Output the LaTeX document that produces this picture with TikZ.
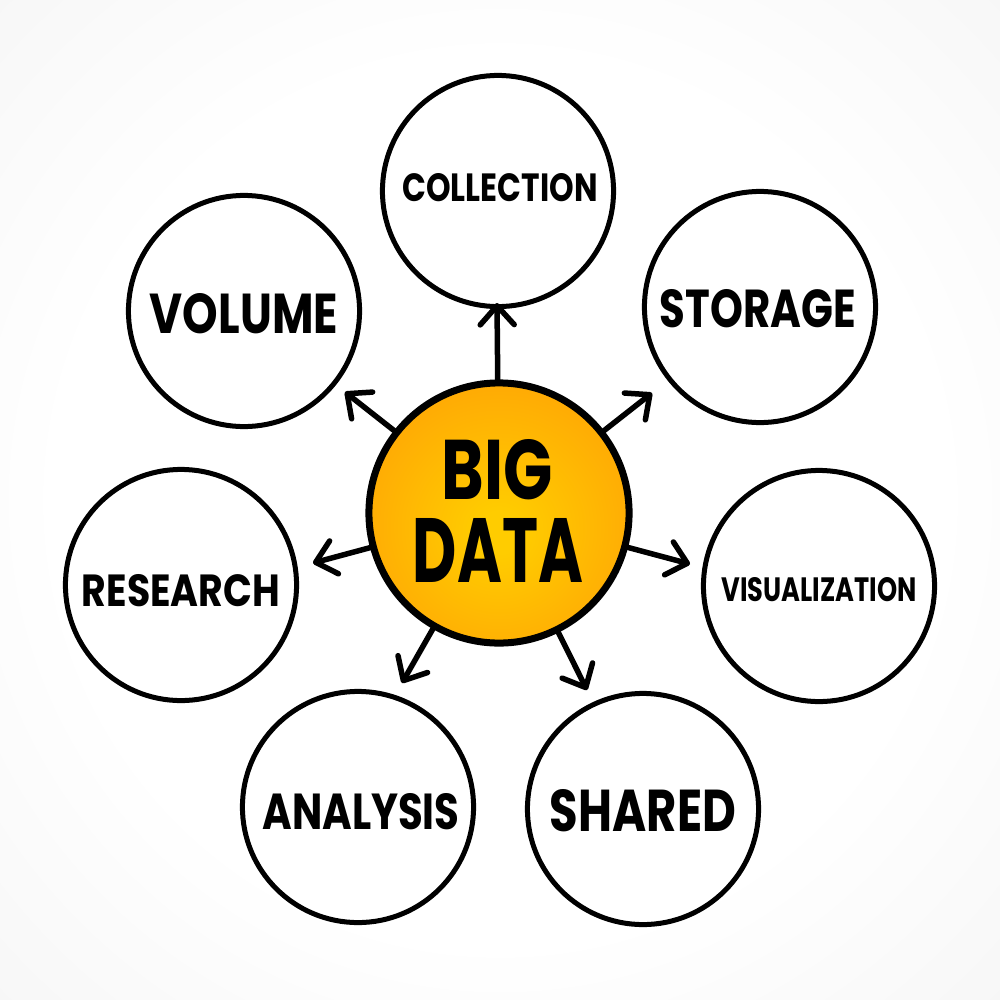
\documentclass[tikz,border=0pt]{standalone}
\usepackage{graphicx}
\usepackage{fontspec}
\setmainfont{Poppins}
\usetikzlibrary{arrows.meta}
\definecolor{bggray}{RGB}{226,226,226}
\definecolor{orbin}{RGB}{255,204,0}
\definecolor{orbout}{RGB}{255,146,8}
\pgfdeclareradialshading{bgshade}{\pgfpoint{0bp}{0bp}}{color(0bp)=(white); color(22bp)=(white); color(72bp)=(bggray)}
\pgfdeclareradialshading{orb}{\pgfpoint{0bp}{-4bp}}{color(0bp)=(orbin); color(4bp)=(orbin); color(44bp)=(orbout); color(60bp)=(orbout)}
\newlength\pxu
\setlength\pxu{0.1mm}
\newcommand\lbl[3]{\resizebox{#1\pxu}{#2\pxu}{\bfseries #3}}
\begin{document}
\begin{tikzpicture}[x=0.01cm,y=-0.01cm,
  bubble/.style={circle, draw=black, line width=0.05cm, minimum size=2.31cm, inner sep=0pt},
  hub/.style={circle, draw=black, line width=0.07cm, minimum size=2.6cm, inner sep=0pt, shading=orb},
  txt/.style={inner sep=0pt, outer sep=0pt},
  link/.style={line width=0.055cm, line cap=round,
    -{Straight Barb[length=0.19cm,width=0.34cm,line cap=round,line join=round]}}]
\useasboundingbox (0,0) rectangle (1000,1000);
\fill[shading=bgshade] (0,0) rectangle (1000,1000);

% outer circles
\node[bubble] (col) at (498,191) {};
\node[bubble] (vol) at (244,311) {};
\node[bubble] (sto) at (760,307) {};
\node[bubble] (res) at (181,585) {};
\node[bubble] (vis) at (819,586) {};
\node[bubble] (ana) at (358,807) {};
\node[bubble] (sha) at (643,809) {};

% hub
\node[hub] (big) at (499,513) {};

% labels
\node[txt] (bigt) at (497,470) {\lbl{111}{60}{BIG}};
\node[txt] (datat) at (498,550) {\lbl{170}{64}{DATA}};
\node[txt] (colt) at (500,188) {\lbl{195}{28}{COLLECTION}};
\node[txt] (volt) at (244,314) {\lbl{188}{40}{VOLUME}};
\node[txt] (stot) at (758,309) {\lbl{196}{38}{STORAGE}};
\node[txt] (rest) at (181,591) {\lbl{198}{32}{RESEARCH}};
\node[txt] (vist) at (819,590) {\lbl{195}{24}{VISUALIZATION}};
\node[txt] (anat) at (361,812) {\lbl{197}{36}{ANALYSIS}};
\node[txt] (shat) at (643,811) {\lbl{186}{42}{SHARED}};

% arrow tips
\coordinate (tC) at (497,303);
\coordinate (tV) at (345,392);
\coordinate (tS) at (652,393);
\coordinate (tR) at (313,563);
\coordinate (tZ) at (690,564);
\coordinate (tA) at (402,683);
\coordinate (tH) at (587,690);

\draw[link] (big) -- (tC);
\draw[link] (big) -- (tV);
\draw[link] (big) -- (tS);
\draw[link] (big) -- (tR);
\draw[link] (big) -- (tZ);
\draw[link] (big) -- (tA);
\draw[link] (big) -- (tH);
\end{tikzpicture}
\end{document}
